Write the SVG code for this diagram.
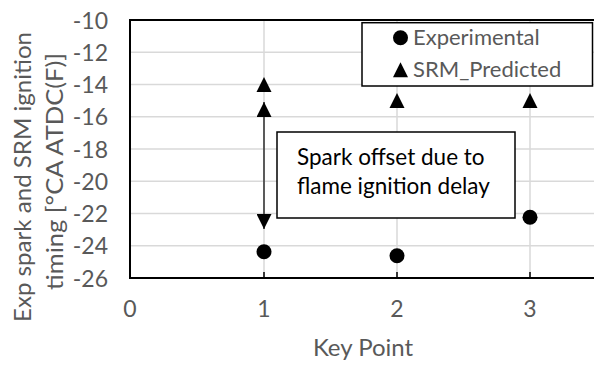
<svg xmlns="http://www.w3.org/2000/svg" width="594" height="365" viewBox="0 0 594 365">
<style>
.grid{stroke:#d9d9d9;stroke-width:1.5;fill:none}
.axis{stroke:#000;stroke-width:2;fill:none}
.lbl{font-family:Lato,"Liberation Sans",sans-serif;font-size:22px;fill:#595959}
.tick{font-family:Lato,"Liberation Sans",sans-serif;font-size:23px;fill:#595959}
.ttl{font-family:Lato,"Liberation Sans",sans-serif;font-size:24px;fill:#595959}
.box{fill:#fff;stroke:#000;stroke-width:1.5}
.note{font-family:Lato,"Liberation Sans",sans-serif;font-size:22.5px;fill:#000}
</style>
<defs>
<marker id="ah" viewBox="0 0 15 15" refX="15" refY="7.5" markerWidth="15" markerHeight="15" markerUnits="userSpaceOnUse" orient="auto-start-reverse">
<path d="M0,0 L15,7.5 L0,15 Z" fill="#000"/>
</marker>
<circle id="dot" r="7.5" fill="#000"/>
<path id="tri" d="M0,-7.5 L7.5,7.5 L-7.5,7.5 Z" fill="#000"/>
</defs>
<rect width="594" height="365" fill="#fff"/>
<g id="grid">
<path class="grid" d="M130,52.25H594M130,84.5H594M130,116.75H594M130,149H594M130,181.25H594M130,213.5H594M130,245.75H594"/>
<path class="grid" d="M264,20V278M397,20V278M530,20V278"/>
</g>
<g id="axes">
<path class="axis" d="M594,20H130V278H594"/>
<path stroke="#000" stroke-width="1.5" d="M264,272V278M397,272V278M530,272V278"/>
</g>
<g id="y-ticks" class="tick" text-anchor="end">
<text x="108" y="28.5">-10</text>
<text x="108" y="60.75">-12</text>
<text x="108" y="93">-14</text>
<text x="108" y="125.25">-16</text>
<text x="108" y="157.5">-18</text>
<text x="108" y="189.75">-20</text>
<text x="108" y="222">-22</text>
<text x="108" y="254.25">-24</text>
<text x="108" y="286.5">-26</text>
</g>
<g id="x-ticks" class="tick" text-anchor="middle">
<text x="130" y="317">0</text>
<text x="264" y="317">1</text>
<text x="397" y="317">2</text>
<text x="530" y="317">3</text>
</g>
<g id="x-title"><text class="ttl" x="363" y="356" text-anchor="middle">Key Point</text></g>
<g id="y-title" class="ttl" text-anchor="middle">
<text transform="translate(31,177) rotate(-90)" textLength="290" lengthAdjust="spacingAndGlyphs">Exp spark and SRM ignition</text>
<text transform="translate(63,171.5) rotate(-90)" textLength="237" lengthAdjust="spacingAndGlyphs">timing [°CA ATDC(F)]</text>
</g>
<g id="experimental">
<use href="#dot" x="264" y="251.7"/>
<use href="#dot" x="397" y="255.7"/>
<use href="#dot" x="530" y="217.3"/>
</g>
<g id="srm-predicted">
<use href="#tri" x="264" y="84.5"/>
<use href="#tri" x="397" y="100.5"/>
<use href="#tri" x="530" y="100.5"/>
</g>
<g id="connectors">
<line x1="264" y1="102" x2="264" y2="229" stroke="#000" stroke-width="1.2" marker-start="url(#ah)" marker-end="url(#ah)"/>
</g>
<g id="note">
<rect class="box" x="277" y="132" width="238" height="86"/>
<text class="note" x="297" y="165">Spark offset due to</text>
<text class="note" x="297" y="194">flame ignition delay</text>
</g>
<g id="legend">
<rect class="box" x="362" y="22.7" width="230.5" height="63.3"/>
<use href="#dot" x="400.5" y="37.7"/>
<text class="lbl" x="413" y="45">Experimental</text>
<use href="#tri" x="400.5" y="69.7"/>
<text class="lbl" x="413" y="77">SRM_Predicted</text>
</g>
</svg>
